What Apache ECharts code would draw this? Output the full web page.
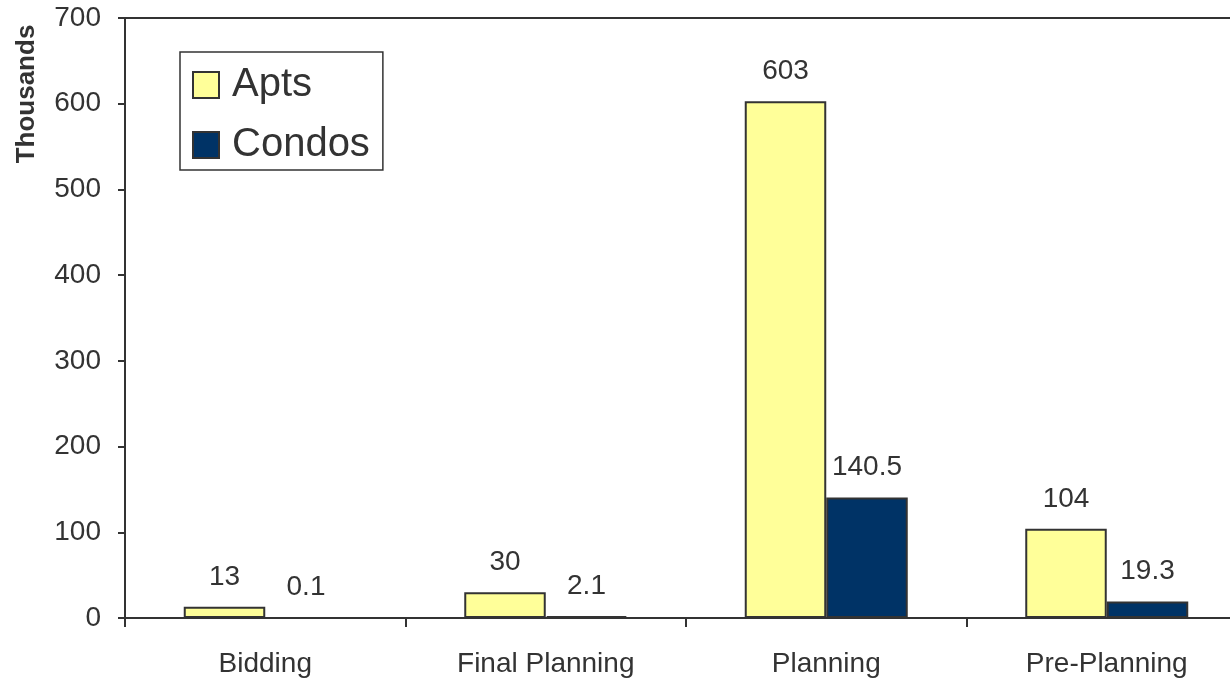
<!DOCTYPE html>
<html>
<head>
<meta charset="utf-8">
<script src="https://cdn.jsdelivr.net/npm/echarts@6/dist/echarts.min.js"></script>
<style>
  html, body { margin: 0; padding: 0; background: #fff; }
  #chart { width: 1230px; height: 678px; }
</style>
</head>
<body>
<div id="chart"></div>
<script>
// Units by project stage (thousands)
const categories = ['Bidding', 'Final Planning', 'Planning', 'Pre-Planning'];
const apts = [13, 30, 603, 104];
const condos = [0.1, 2.1, 140.5, 19.3];
const yTicks = { min: 0, max: 700, interval: 100 };

const FONT = '"Liberation Sans", Arial, sans-serif';
const INK = '#333333';

const chart = echarts.init(document.getElementById('chart'));

const labelStyle = {
  show: true,
  position: 'top',
  distance: 16,
  color: INK,
  fontFamily: FONT,
  fontSize: 28
};

chart.setOption({
  animation: false,
  backgroundColor: '#ffffff',
  grid: {
    left: 125,
    top: 18,
    width: 1122,
    height: 600,
    show: true,
    borderColor: INK,
    borderWidth: 2,
    backgroundColor: 'transparent',
    outerBoundsMode: 'none',
    containLabel: false
  },
  legend: {
    orient: 'vertical',
    left: 180,
    top: 52,
    padding: [13, 13, 5, 12],
    itemGap: 20,
    itemWidth: 26,
    itemHeight: 26,
    borderColor: INK,
    borderWidth: 1.5,
    backgroundColor: '#ffffff',
    icon: 'rect',
    textStyle: {
      fontFamily: FONT,
      fontSize: 40,
      color: INK,
      padding: [0, 0, 0, 8]
    },
    data: ['Apts', 'Condos']
  },
  graphic: [{
    type: 'text',
    x: 27,
    y: 94,
    rotation: Math.PI / 2,
    style: {
      text: 'Thousands',
      fontFamily: FONT,
      fontWeight: 'bold',
      fontSize: 26,
      fill: INK,
      align: 'center',
      verticalAlign: 'middle'
    }
  }],
  xAxis: {
    type: 'category',
    data: categories,
    boundaryGap: true,
    axisLine: { lineStyle: { color: INK, width: 2 } },
    axisTick: { show: true, length: 9, lineStyle: { color: INK, width: 2 } },
    axisLabel: { color: INK, fontFamily: FONT, fontSize: 28, margin: 32 },
    splitLine: { show: false }
  },
  yAxis: {
    type: 'value',
    min: yTicks.min,
    max: yTicks.max,
    interval: yTicks.interval,
    axisLine: { show: true, lineStyle: { color: INK, width: 2 } },
    axisTick: { show: true, length: 7, lineStyle: { color: INK, width: 2 } },
    axisLabel: { color: INK, fontFamily: FONT, fontSize: 28, margin: 24 },
    splitLine: { show: false }
  },
  series: [
    {
      name: 'Apts',
      type: 'bar',
      data: apts,
      barWidth: 81.5,
      barGap: '0%',
      itemStyle: { color: '#FFFF99', borderColor: INK, borderWidth: 2 },
      label: labelStyle
    },
    {
      name: 'Condos',
      type: 'bar',
      data: condos,
      barWidth: 81.5,
      barGap: '0%',
      itemStyle: { color: '#003366', borderColor: INK, borderWidth: 2 },
      label: labelStyle
    }
  ]
});
</script>
</body>
</html>
